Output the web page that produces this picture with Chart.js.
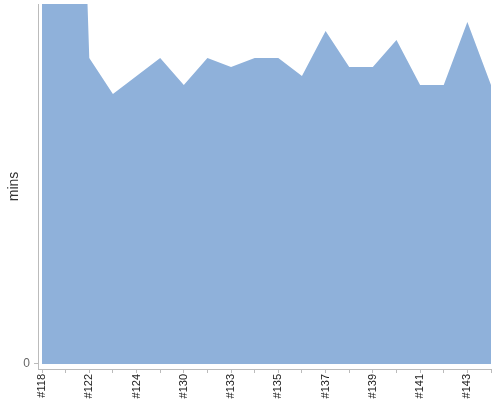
<!DOCTYPE html>
<html>
<head>
<meta charset="utf-8">
<script src="https://cdn.jsdelivr.net/npm/chart.js@4"></script>
<style>
html,body{margin:0;padding:0;background:#fff;}
#wrap{width:500px;height:400px;}
</style>
</head>
<body>
<div id="wrap"><canvas id="c" width="500" height="400"></canvas></div>
<script>
const buildLabels = ['#118','#121','#122','#123','#124','#127','#130','#132','#133','#134','#135','#136','#137','#138','#139','#140','#141','#142','#143','#144'];
const minutes = [45, 57, 17, 15, 16, 17, 15.5, 17, 16.5, 17, 17, 16, 18.5, 16.5, 16.5, 18, 15.5, 15.5, 19, 15.5];
const yTickValues = [0];
const yAxisTitle = 'mins';

const points = minutes.map((v, i) => ({x: i, y: v}));

new Chart(document.getElementById('c'), {
  type: 'line',
  data: {
    datasets: [{
      data: points,
      fill: 'origin',
      backgroundColor: '#8fb1da',
      borderColor: '#8fb1da',
      borderWidth: 0,
      pointRadius: 0,
      tension: 0,
      clip: 0
    }]
  },
  options: {
    responsive: false,
    animation: false,
    layout: {padding: {top: 4, right: 9, left: 0, bottom: 0}},
    plugins: {legend: {display: false}, tooltip: {enabled: false}},
    scales: {
      x: {
        type: 'linear',
        min: -0.17,
        max: buildLabels.length - 1,
        afterBuildTicks: (scale) => {
          scale.ticks = buildLabels.map((_, i) => ({value: i}));
        },
        afterFit: (scale) => {
          scale.height = 31;
          scale.paddingLeft = 0; scale.paddingRight = 0;
        },
        ticks: {
          autoSkip: false,
          minRotation: 90,
          maxRotation: 90,
          padding: 1,
          color: '#222',
          font: {family: 'Liberation Sans', size: 11},
          callback: (v) => (v % 2 === 0 ? buildLabels[v] : '')
        },
        grid: {display: true, drawOnChartArea: false, drawTicks: true, tickLength: 4, color: '#bbbbbb'},
        border: {display: true, color: '#bbbbbb', width: 1}
      },
      y: {
        min: -0.28,
        max: 20,
        afterBuildTicks: (scale) => {
          scale.ticks = yTickValues.map(v => ({value: v}));
        },
        afterFit: (scale) => {
          scale.width = 38;
          scale.paddingTop = 0; scale.paddingBottom = 0;
        },
        title: {
          display: true,
          text: yAxisTitle,
          color: '#333',
          font: {family: 'Liberation Sans', size: 14},
          padding: {top: 6, bottom: 0}
        },
        ticks: {
          padding: 4,
          color: '#666',
          font: {family: 'Liberation Sans', size: 12}
        },
        grid: {display: true, drawOnChartArea: false, drawTicks: true, tickLength: 4, color: '#bbbbbb'},
        border: {display: true, color: '#bbbbbb', width: 1}
      }
    }
  }
});
</script>
</body>
</html>
